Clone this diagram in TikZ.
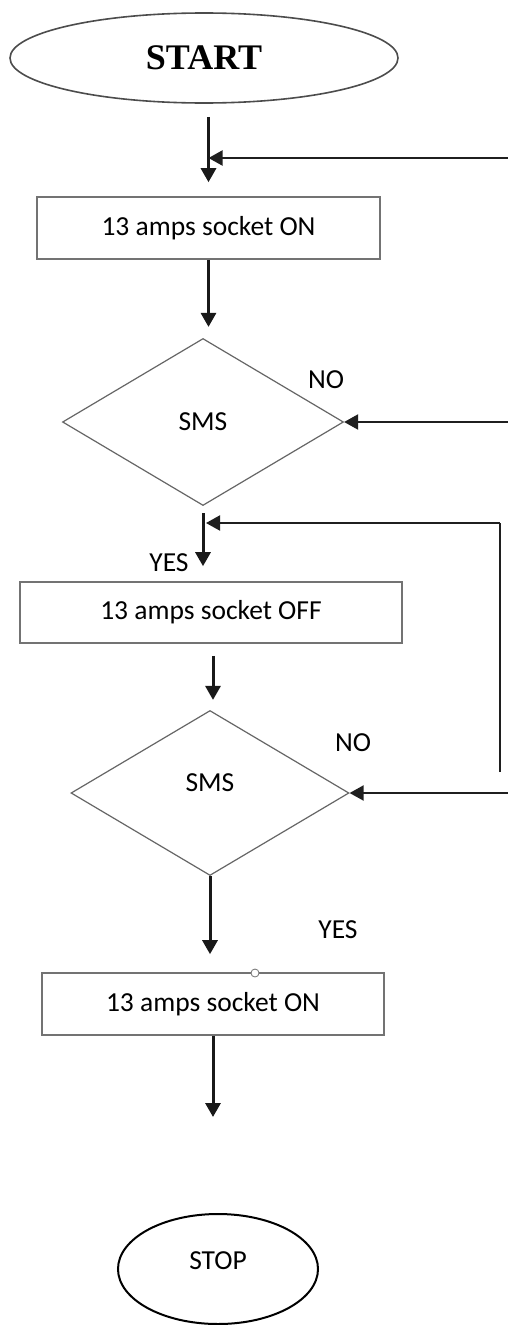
\documentclass[tikz,border=0pt]{standalone}
\usepackage{fontspec}
\setmainfont{Carlito}
\newfontfamily\startfont{Liberation Serif}
\usetikzlibrary{shapes.geometric,arrows.meta,calc}
\begin{document}
\begin{tikzpicture}[x=1pt,y=-1pt,
  lbl/.style={font=\fontsize{27.5}{30}\selectfont, text=black, inner sep=0pt},
  procbox/.style={draw=black!55, line width=1.6pt, minimum width=#1, minimum height=62pt, inner sep=0pt, font=\fontsize{27.5}{30}\selectfont},
  decide/.style={diamond, draw=black!60, line width=1.2pt, inner sep=0pt, font=\fontsize{27.5}{30}\selectfont},
  arr/.style={draw=black!90, line width=3pt, -{Triangle[length=14pt,width=15pt]}},
  back/.style={draw=black!88, line width=2pt, -{Triangle[length=14pt,width=15pt]}},
  thinline/.style={draw=black!88, line width=1.8pt}]
\fill[white] (0,0) rectangle (508,1325);
\useasboundingbox (0,0) rectangle (508,1325);

% nodes
\node[ellipse, draw=black!70, line width=1.6pt, minimum width=388pt, minimum height=90pt, inner sep=0pt] (start) at (204,58) {\startfont\bfseries\fontsize{36}{40}\selectfont START};
\node[procbox=343pt] (box1) at (208.5,228) {13 amps socket ON};
\node[decide, minimum width=281pt, minimum height=167pt] (d1) at (203,422) {SMS};
\node[procbox=382pt, minimum height=61pt] (box2) at (211,612.5) {13 amps socket OFF};
\node[decide, minimum width=278pt, minimum height=165pt] (d2) at (210,793) {};
\node[lbl] (sms2) at (210,783) {SMS};
\node[procbox=342pt] (box3) at (213,1004) {13 amps socket ON};
\node[circle, draw=black!55, fill=white, line width=0.8pt, minimum size=8pt, inner sep=0pt] (handle) at (255,973) {};
\node[ellipse, draw=black, line width=2pt, minimum width=200pt, minimum height=110pt, inner sep=0pt] (stop) at (218,1269) {};
\node[lbl] (stoptxt) at (218,1261) {STOP};

% labels
\node[lbl] (no1) at (326,380) {NO};
\node[lbl] (yes1) at (169,563) {YES};
\node[lbl] (no2) at (353,743) {NO};
\node[lbl] (yes2) at (338,930) {YES};

% coordinates at page edge
\coordinate (r1) at (508,158);
\coordinate (r2) at (508,422);
\coordinate (r3) at (508,793);
\coordinate (l2a) at (500,772);
\coordinate (l2b) at (500,523);

% main flow
\draw[arr, shorten <=13pt, shorten >=14pt] (start.south -| box1.north) -- (box1.north);
\draw[arr, shorten >=11pt] (box1.south) -- (box1.south |- d1.north);
\draw[arr, shorten <=7pt, shorten >=15pt] (d1.south) -- (d1.south |- box2.north);
\draw[arr, shorten <=12pt, shorten >=10pt] (box2.south -| d2.north) ++(3,0) coordinate (a4s) (a4s) -- (a4s |- d2.north);
\draw[arr, shorten >=18pt] (d2.south) -- (d2.south |- box3.north);
\draw[arr, shorten >=96pt] (box3.south) -- (box3.south |- stop.north);

% feedback lines
\draw[back] (r1) -- (r1 -| box1.north);
\draw[back] (r2) -- (d1.east);
\draw[back] (r3) -- (d2.east);
\draw[thinline] (l2a) -- (l2b);
\draw[back] (l2b) -- ($(l2b -| d1.south)+(3,0)$);
\end{tikzpicture}
\end{document}
